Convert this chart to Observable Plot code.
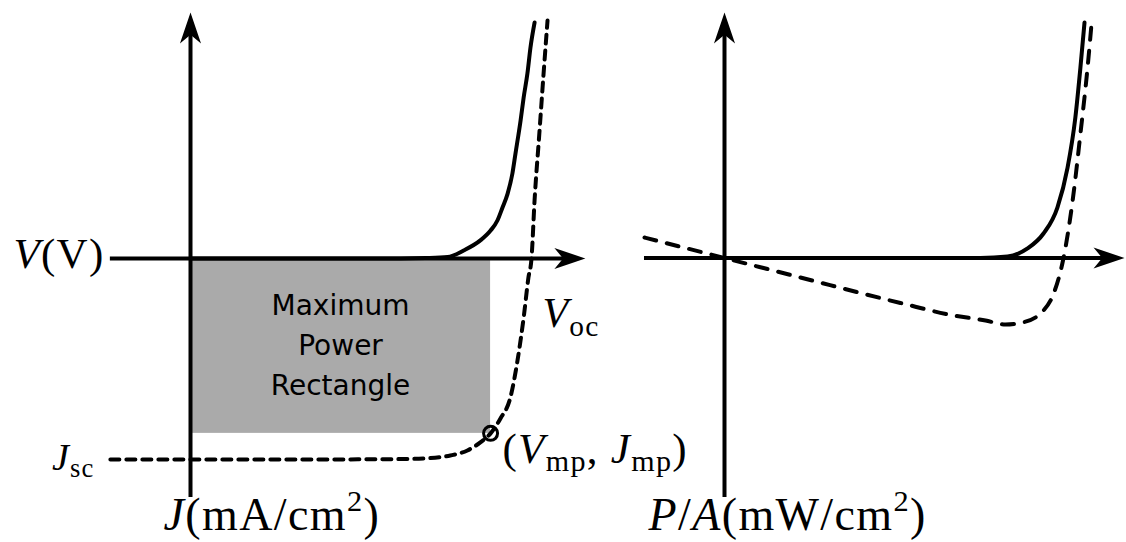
<!DOCTYPE html>
<html>
<head>
<meta charset="utf-8">
<script src="https://cdn.jsdelivr.net/npm/d3@7"></script>
<script src="https://cdn.jsdelivr.net/npm/@observablehq/plot@0.6"></script>
<style>
  html, body { margin: 0; padding: 0; background: #fff; }
  #fig { position: relative; width: 1126px; height: 542px; overflow: hidden; }
  #fig svg { position: absolute; top: 0; background: transparent !important; overflow: visible; }
</style>
</head>
<body>
<div id="fig"></div>
<script>
// Solar-cell schematic: J–V curves (left) and power density (right).
// Units are normalised: V / Voc and J / |Jsc|.

// Illuminated J–V curve (dashed)
const illumV = [-0.235, 0, 0.323, 0.616, 0.704, 0.762, 0.812, 0.850, 0.880, 0.909, 0.938, 0.959, 0.977, 0.991, 1.000, 1.009, 1.023, 1.035, 1.047];
const illumJ = [-1.000, -1.000, -1.000, -0.998, -0.993, -0.980, -0.955, -0.915, -0.870, -0.796, -0.692, -0.507, -0.294, -0.095, 0.000, 0.289, 0.622, 0.910, 1.184];

// Dark J–V curve (solid)
const darkV = [0, 0.616, 0.689, 0.754, 0.801, 0.850, 0.880, 0.900, 0.915, 0.930, 0.944, 0.953, 0.968, 0.977, 0.988, 0.997, 1.009];
const darkJ = [0, 0.000, 0.002, 0.007, 0.040, 0.090, 0.139, 0.189, 0.254, 0.323, 0.423, 0.522, 0.687, 0.801, 0.920, 1.050, 1.174];

// Maximum power point
const Vmp = 0.880;
const Jmp = -0.870;

// Power density under illumination (dashed)
const powV = [-0.236, 0, 0.224, 0.519, 0.676, 0.770, 0.829, 0.879, 0.941, 0.971, 1.000, 1.027, 1.050, 1.071, 1.083];
const powP = [0.234, 0, -0.223, -0.514, -0.657, -0.714, -0.760, -0.737, -0.600, -0.406, 0.000, 0.657, 1.423, 2.177, 2.691];

// Power density in the dark (solid)
const darkPV = [0, 0.755, 0.835, 0.894, 0.941, 0.982, 1.012, 1.035, 1.050, 1.062];
const darkPP = [0, 0.000, 0.017, 0.109, 0.280, 0.577, 1.034, 1.606, 2.180, 2.691];

// Axis extents [start, arrow tip]
const leftAxisV = [-0.235, 1.158];
const leftAxisJ = [-1.189, 1.224];
const rightAxisV = [-0.236, 1.180];
const rightAxisP = [-2.737, 2.806];

// Labels (mini markup: *italic*, _{subscript}, ^{superscript})
const labelV = "*V*(V)";
const labelJ = "*J*(mA/cm^{2})";
const labelP = "*P*/*A*(mW/cm^{2})";
const labelJsc = "*J*_{sc}";
const labelVoc = "*V*_{oc}";
const labelMpp = "(*V*_{mp}, *J*_{mp})";
const labelRect = "Maximum\nPower\nRectangle";

const H = 542;
const serif = "'Liberation Serif', 'Times New Roman', serif";

const zip = (xs, ys) => xs.map((x, i) => ({x, y: ys[i]}));

// Filled arrowhead with a notched back, tip at the origin, pointing up
const stealth = {
  draw(ctx, size) {
    const L = Math.sqrt(size / Math.PI);
    const w = 0.34 * L;
    ctx.moveTo(0, 0);
    ctx.lineTo(w, L);
    ctx.lineTo(0, 0.72 * L);
    ctx.lineTo(-w, L);
    ctx.closePath();
  }
};

function frame(W, ox, oy, ux, uy) {
  return {
    width: W, height: H, margin: 0,
    x: {domain: [-ox / ux, (W - ox) / ux], axis: null},
    y: {domain: [-(H - oy) / uy, oy / uy], axis: null}
  };
}

function axes(aV, aY, ux, uy) {
  const back = 14;
  return [
    Plot.ruleY([0], {x1: aV[0], x2: aV[1] - back / ux, stroke: "black", strokeWidth: 4}),
    Plot.ruleX([0], {y1: aY[0], y2: aY[1] - back / uy, stroke: "black", strokeWidth: 4}),
  ];
}

function heads(aV, aY) {
  return Plot.dot([{x: aV[1], y: 0, a: 90}, {x: 0, y: aY[1], a: 0}], {
    x: "x", y: "y", rotate: "a", symbol: stealth, r: 31, fill: "black", stroke: "none"
  });
}

function label(text, x, y, anchor, size) {
  return Plot.text([text], {x, y, text: d => d, textAnchor: anchor, lineAnchor: "bottom", fontFamily: serif, fontSize: size, fill: "black"});
}

// Left panel: J–V
const L = {W: 620, ox: 190, oy: 258, ux: 341, uy: 201};
const left = Plot.plot({
  ...frame(L.W, L.ox, L.oy, L.ux, L.uy),
  marks: [
    Plot.rect([{V: Vmp, J: Jmp}], {x1: 0, x2: "V", y1: "J", y2: 0, fill: "#aaaaaa"}),
    ...axes(leftAxisV, leftAxisJ, L.ux, L.uy),
    Plot.line(zip(darkV, darkJ), {x: "x", y: "y", curve: "monotone-x", stroke: "black", strokeWidth: 4}),
    Plot.line(zip(illumV, illumJ), {x: "x", y: "y", curve: "monotone-x", stroke: "black", strokeWidth: 4, strokeDasharray: "9,7"}),
    heads(leftAxisV, leftAxisJ),
    Plot.dot([{V: Vmp, J: Jmp}], {x: "V", y: "J", r: 7, fill: "none", stroke: "black", strokeWidth: 3}),
    Plot.text([{V: Vmp / 2, J: Jmp / 2}], {x: "V", y: "J", dy: -4, text: () => labelRect, fontFamily: "'DejaVu Sans', sans-serif", fontSize: 28, lineHeight: 1.43, fill: "black"}),
    label(labelV, -0.252, -0.045, "end", 43),
    label(labelJsc, -0.282, -1.050, "end", 38),
    label(labelVoc, 1.032, -0.343, "start", 42),
    label(labelMpp, 0.915, -1.015, "start", 43),
    label(labelJ, -0.079, -1.353, "start", 46),
  ]
});

// Right panel: power density
const R = {W: 506, ox: 104, oy: 257.5, ux: 339, uy: 87.5};
const right = Plot.plot({
  ...frame(R.W, R.ox, R.oy, R.ux, R.uy),
  marks: [
    ...axes(rightAxisV, rightAxisP, R.ux, R.uy),
    Plot.line(zip(darkPV, darkPP), {x: "x", y: "y", curve: "monotone-x", stroke: "black", strokeWidth: 4}),
    Plot.line(zip(powV, powP), {x: "x", y: "y", curve: "monotone-x", stroke: "black", strokeWidth: 4, strokeDasharray: "12,11"}),
    heads(rightAxisV, rightAxisP),
    label(labelP, -0.224, -3.114, "start", 46),
  ]
});

const fig = document.getElementById("fig");
left.style.left = "0px";
right.style.left = L.W + "px";
fig.appendChild(right);
fig.appendChild(left);

// Turn the mini markup into italic / sub / superscript tspans
function typeset(svg) {
  const ns = "http://www.w3.org/2000/svg";
  svg.querySelectorAll("text").forEach(t => {
    if (t.querySelector("tspan")) return;
    const src = t.textContent;
    if (!/[*_^]/.test(src)) return;
    const fs = parseFloat(getComputedStyle(t).fontSize);
    const re = /\*([^*]+)\*|_\{([^}]+)\}|\^\{([^}]+)\}|([^*_^]+)/g;
    let m, cur = 0;
    t.textContent = "";
    t.setAttribute("letter-spacing", "0.03em");
    while ((m = re.exec(src))) {
      const s = document.createElementNS(ns, "tspan");
      let target = 0;
      if (m[1] != null) { s.textContent = m[1]; s.setAttribute("font-style", "italic"); }
      else if (m[2] != null) { s.textContent = m[2]; s.setAttribute("font-size", 0.7 * fs); target = 0.2 * fs; }
      else if (m[3] != null) { s.textContent = m[3]; s.setAttribute("font-size", 0.66 * fs); target = -0.42 * fs; }
      else { s.textContent = m[4]; }
      if (target !== cur) { s.setAttribute("dy", target - cur); cur = target; }
      t.appendChild(s);
    }
  });
}
typeset(left);
typeset(right);
</script>
</body>
</html>
